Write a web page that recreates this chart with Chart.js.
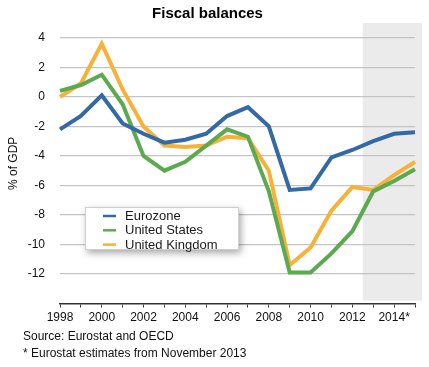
<!DOCTYPE html>
<html>
<head>
<meta charset="utf-8">
<script src="https://cdn.jsdelivr.net/npm/chart.js@4"></script>
<style>
  html, body { margin: 0; padding: 0; background: #fff; }
  #wrap { width: 429px; height: 367px; position: relative; }
</style>
</head>
<body>
<div id="wrap"><canvas id="c" width="429" height="367"></canvas></div>
<script>
const years = ['1998','1999','2000','2001','2002','2003','2004','2005','2006','2007','2008','2009','2010','2011','2012','2013','2014','2015'];
const tickLabels = {'1998':'1998','2000':'2000','2002':'2002','2004':'2004','2006':'2006','2008':'2008','2010':'2010','2012':'2012','2014':'2014*'};
const eurozone = [-2.2,-1.3,0.1,-1.8,-2.5,-3.1,-2.9,-2.5,-1.3,-0.7,-2.0,-6.3,-6.2,-4.1,-3.6,-3.0,-2.5,-2.4];
const unitedStates = [0.4,0.8,1.5,-0.5,-4.0,-5.0,-4.4,-3.3,-2.2,-2.7,-6.4,-11.9,-11.9,-10.6,-9.1,-6.4,-5.7,-4.9];
const unitedKingdom = [0.0,0.9,3.6,0.5,-2.0,-3.3,-3.4,-3.3,-2.7,-2.8,-5.0,-11.4,-10.2,-7.7,-6.1,-6.3,-5.3,-4.4];
const seriesNames = ['Eurozone','United States','United Kingdom'];
const seriesColors = ['#3369a6','#5caa50','#f8b136'];
const forecastStart = 14.5; // index position (between 2012 and 2013)
const footnotes = ['Source: Eurostat and OECD', '* Eurostat estimates from November 2013'];

const FONT = '"Liberation Sans", Arial, Helvetica, sans-serif';

const shadePlugin = {
  id: 'shade',
  beforeDraw(chart) {
    const {ctx, chartArea, scales} = chart;
    const x0 = scales.x.getPixelForValue(forecastStart);
    ctx.save();
    ctx.fillStyle = '#ebebeb';
    ctx.fillRect(x0, chartArea.top, chartArea.right + 7 - x0, chartArea.bottom - 3 - chartArea.top);
    ctx.restore();
  }
};

const extrasPlugin = {
  id: 'extras',
  afterDraw(chart) {
    const {ctx} = chart;
    ctx.save();
    // legend box
    const bx = 85, by = 207, bw = 154, bh = 43;
    ctx.shadowColor = 'rgba(0,0,0,0.35)';
    ctx.shadowBlur = 7;
    ctx.shadowOffsetX = 2;
    ctx.shadowOffsetY = 3;
    ctx.fillStyle = '#ffffff';
    ctx.fillRect(bx, by, bw, bh);
    ctx.shadowColor = 'transparent';
    ctx.strokeStyle = '#d0d0d0';
    ctx.lineWidth = 1;
    ctx.strokeRect(bx + 0.5, by + 0.5, bw - 1, bh - 1);
    ctx.font = '13px ' + FONT;
    ctx.textBaseline = 'middle';
    ctx.textAlign = 'left';
    chart.data.datasets.forEach((ds, i) => {
      const y = by + 9 + i * 14.3;
      ctx.strokeStyle = ds.borderColor;
      ctx.lineWidth = 2.5;
      ctx.beginPath();
      ctx.moveTo(103, y);
      ctx.lineTo(116, y);
      ctx.stroke();
      ctx.fillStyle = '#1a1a1a';
      ctx.fillText(ds.label, 125, y + 0.5);
    });
    // footnotes
    ctx.font = '12px ' + FONT;
    ctx.fillStyle = '#111';
    footnotes.forEach((t, i) => ctx.fillText(t, 23, 337 + i * 16.7));
    ctx.restore();
  }
};

new Chart(document.getElementById('c'), {
  type: 'line',
  data: {
    labels: years,
    datasets: seriesNames.map((name, i) => ({
      label: name,
      data: [eurozone, unitedStates, unitedKingdom][i],
      borderColor: seriesColors[i],
      backgroundColor: seriesColors[i],
      borderWidth: 4,
      pointRadius: 0,
      tension: 0,
      borderJoinStyle: 'miter',
      borderCapStyle: 'butt'
    }))
  },
  options: {
    responsive: false,
    animation: false,
    devicePixelRatio: 1,
    layout: { padding: { left: 0, right: 14, top: 0, bottom: 39 } },
    plugins: {
      legend: { display: false },
      tooltip: { enabled: false },
      title: {
        display: true,
        text: 'Fiscal balances',
        color: '#000',
        font: { family: FONT, size: 15, weight: 'bold' },
        padding: { top: 5, bottom: 0 }
      }
    },
    scales: {
      x: {
        type: 'category',
        offset: false,
        grid: { drawOnChartArea: false, drawTicks: true, tickLength: 4, color: '#444', lineWidth: 1 },
        border: { display: true, color: '#333', width: 1.5 },
        ticks: {
          autoSkip: false,
          maxRotation: 0,
          padding: 3,
          color: '#111',
          font: { family: FONT, size: 12 },
          callback(v, i) { return tickLabels[years[i]] || ''; }
        }
      },
      y: {
        min: -14,
        max: 5,
        afterFit(scale) { scale.width = 60; },
        grid: {
          drawTicks: false,
          color(ctx) { return (ctx.tick && (ctx.tick.value === 5 || ctx.tick.value === -14)) ? 'rgba(0,0,0,0)' : '#c4c4c4'; },
          lineWidth: 1.2
        },
        border: { display: false },
        ticks: {
          stepSize: 1,
          padding: 15,
          color: '#111',
          font: { family: FONT, size: 12 },
          callback(v) { return (v % 2 === 0 && v < 5 && v > -14) ? String(v) : ''; }
        },
        title: {
          display: true,
          text: '% of GDP',
          color: '#111',
          font: { family: FONT, size: 12 },
          padding: { top: 6, bottom: 0 }
        }
      }
    }
  },
  plugins: [shadePlugin, extrasPlugin]
});
</script>
</body>
</html>
